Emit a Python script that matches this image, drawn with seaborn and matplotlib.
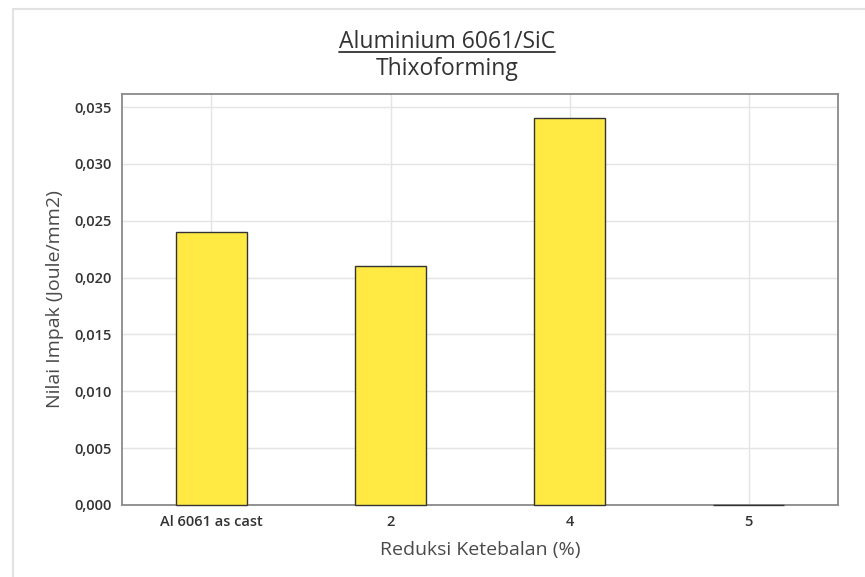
import matplotlib
matplotlib.use("Agg")
import matplotlib.pyplot as plt
from matplotlib.ticker import FuncFormatter, MultipleLocator
from matplotlib.lines import Line2D
import pandas as pd
import seaborn as sns

categories = ["Al 6061 as cast", "2", "4", "5"]
impact_values = [0.024, 0.021, 0.034, 0.0]

df = pd.DataFrame({"Reduksi": categories, "Impak": impact_values})

sns.set_style("white")
plt.rcParams["font.family"] = ["Open Sans", "DejaVu Sans"]

fig = plt.figure(figsize=(8.65, 5.77), dpi=100)
ax = fig.add_axes([0.141, 0.125, 0.828, 0.712])

sns.barplot(data=df, x="Reduksi", y="Impak", color="#FFE942",
            edgecolor="#333333", linewidth=1.0, width=0.4, saturation=1, ax=ax)
# keep the zero-height bar visible on top of the spine
for p in ax.patches:
    p.set_zorder(3)
    p.set_clip_on(False)

ax.set_xlim(-0.5, 3.5)
ax.set_ylim(0, 0.03614)
ax.yaxis.set_major_locator(MultipleLocator(0.005))
ax.yaxis.set_major_formatter(FuncFormatter(lambda v, p: f"{v:.3f}".replace(".", ",")))

ax.set_axisbelow(True)
ax.grid(True, color="#e4e4e4", linewidth=1.0)
for s in ax.spines.values():
    s.set_color("#8a8a8a")
    s.set_linewidth(1.3)
ax.tick_params(axis="both", direction="out", length=4, width=1, color="#8a8a8a",
               labelsize=10.5, labelcolor="#333333", pad=3)
for lab in ax.get_xticklabels() + ax.get_yticklabels():
    lab.set_fontweight("semibold")

ax.set_xlabel("Reduksi Ketebalan (%)", fontsize=14, color="#4a4a4a", labelpad=9)
ax.set_ylabel("Nilai Impak (Joule/mm2)", fontsize=14, color="#4a4a4a", labelpad=8)

cx = 447 / 865
t1 = fig.text(cx, 1 - 42 / 577, "Aluminium 6061/SiC", ha="center", va="center",
              fontsize=16.5, color="#333333")
fig.text(cx, 1 - 69 / 577, "Thixoforming", ha="center", va="center",
         fontsize=16.5, color="#333333")

# underline the main title
fig.canvas.draw()
bb = t1.get_window_extent().transformed(fig.transFigure.inverted())
fig.add_artist(Line2D([bb.x0, bb.x1], [bb.y0 + 0.004, bb.y0 + 0.004],
                      transform=fig.transFigure, color="#333333", linewidth=1.3))

# outer frame of the exported graph
fig.add_artist(Line2D([13 / 865, 13 / 865], [0, 1 - 9 / 577], transform=fig.transFigure,
                      color="#e2e2e2", linewidth=1.5))
fig.add_artist(Line2D([13 / 865, 1], [1 - 9 / 577, 1 - 9 / 577], transform=fig.transFigure,
                      color="#e2e2e2", linewidth=1.5))

fig.savefig("out.png", dpi=100)
